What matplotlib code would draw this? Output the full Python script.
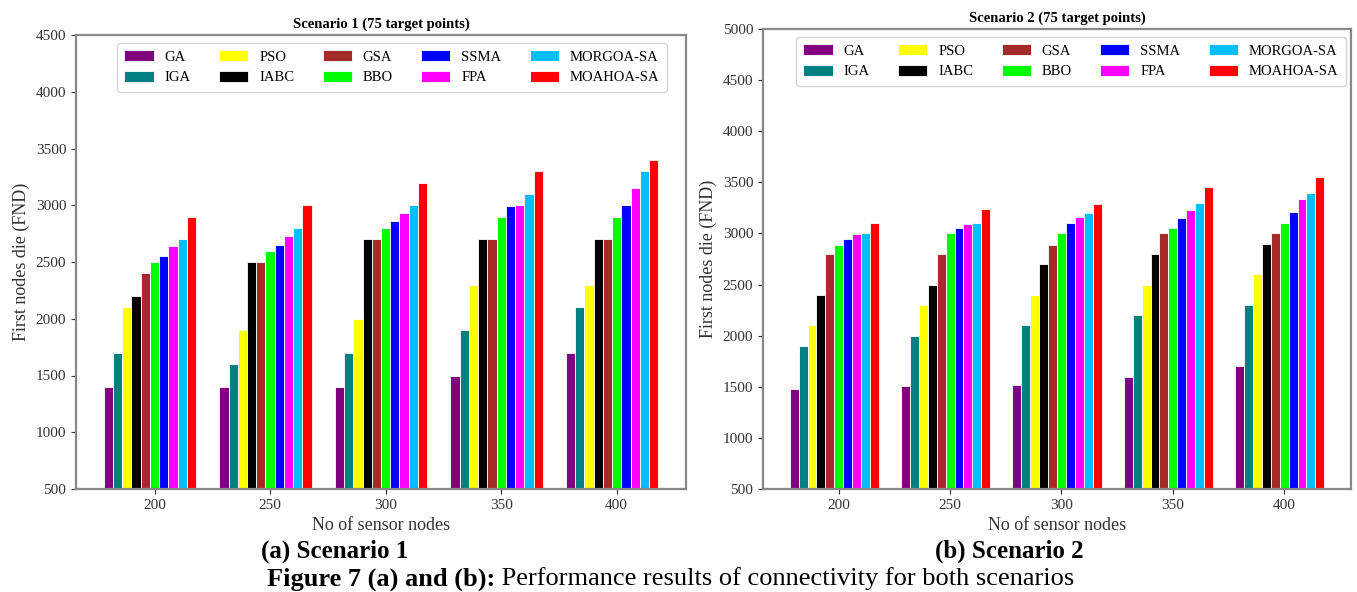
import numpy as np
import matplotlib
matplotlib.use("Agg")
import matplotlib.pyplot as plt

plt.rcParams['font.family'] = ['Liberation Serif', 'DejaVu Serif']

nodes = ["200", "250", "300", "350", "400"]
algorithms = ["GA", "IGA", "PSO", "IABC", "GSA", "BBO", "SSMA", "FPA", "MORGOA-SA", "MOAHOA-SA"]
colors = ["purple", "teal", "yellow", "black", "brown", "lime", "blue", "magenta", "deepskyblue", "red"]

# Scenario 1 values (rows = algorithms, columns = node counts)
s1_GA = [1400, 1400, 1400, 1500, 1700]
s1_IGA = [1700, 1600, 1700, 1900, 2100]
s1_PSO = [2100, 1900, 2000, 2300, 2300]
s1_IABC = [2200, 2500, 2700, 2700, 2700]
s1_GSA = [2400, 2500, 2700, 2700, 2700]
s1_BBO = [2500, 2600, 2800, 2900, 2900]
s1_SSMA = [2550, 2650, 2860, 2990, 3000]
s1_FPA = [2640, 2730, 2930, 3000, 3150]
s1_MORGOA = [2700, 2800, 3000, 3100, 3300]
s1_MOAHOA = [2900, 3000, 3200, 3300, 3400]

# Scenario 2 values
s2_GA = [1480, 1510, 1520, 1600, 1700]
s2_IGA = [1900, 2000, 2100, 2200, 2300]
s2_PSO = [2100, 2300, 2400, 2500, 2600]
s2_IABC = [2400, 2500, 2700, 2800, 2900]
s2_GSA = [2800, 2800, 2890, 3000, 3000]
s2_BBO = [2890, 3000, 3000, 3050, 3100]
s2_SSMA = [2950, 3050, 3100, 3150, 3210]
s2_FPA = [2990, 3090, 3160, 3230, 3340]
s2_MORGOA = [3000, 3100, 3200, 3300, 3400]
s2_MOAHOA = [3100, 3240, 3290, 3450, 3550]

s1 = [s1_GA, s1_IGA, s1_PSO, s1_IABC, s1_GSA, s1_BBO, s1_SSMA, s1_FPA, s1_MORGOA, s1_MOAHOA]
s2 = [s2_GA, s2_IGA, s2_PSO, s2_IABC, s2_GSA, s2_BBO, s2_SSMA, s2_FPA, s2_MORGOA, s2_MOAHOA]

W, H = 1357, 592
fig = plt.figure(figsize=(W / 100, H / 100), dpi=100)

def px_axes(x0, y0, x1, y1):
    return fig.add_axes([x0 / W, 1 - y1 / H, (x1 - x0) / W, (y1 - y0) / H])

ax1 = px_axes(76, 35, 686, 489)
ax2 = px_axes(763, 29, 1351, 489)

def draw(ax, data, title, ymax, legend_anchor_px):
    x = np.arange(len(nodes))
    w = 0.08
    for i, (name, vals, c) in enumerate(zip(algorithms, data, colors)):
        ax.bar(x + (i - 5) * w, np.array(vals) - 500, w, bottom=500, color=c,
               edgecolor='white', linewidth=0.6, label=name)
    ax.set_xticks(x)
    ax.set_xticklabels(nodes, fontsize=11)
    ax.set_ylim(500, ymax)
    ax.set_yticks(np.arange(500, ymax + 1, 500))
    ax.tick_params(axis='y', labelsize=11)
    ax.set_xlabel("No of sensor nodes", fontsize=13, color='#333333')
    ax.set_ylabel("First nodes die (FND)", fontsize=13, color='#333333')
    ax.set_title(title, fontsize=10.5, fontweight='bold', pad=5)
    for s in ax.spines.values():
        s.set_color('#888888')
        s.set_linewidth(1.6)
    ax.tick_params(colors='#333333')
    ax.legend(ncol=5, fontsize=10.5, loc='upper right',
              bbox_to_anchor=(legend_anchor_px[0] / W, 1 - legend_anchor_px[1] / H),
              bbox_transform=fig.transFigure, borderaxespad=0,
              handlelength=2.0, handleheight=0.75, handletextpad=0.75,
              columnspacing=1.95, labelspacing=0.5, borderpad=0.5, framealpha=0.8)

draw(ax1, s1, "Scenario 1 (75 target points)", 4500, (667, 43))
draw(ax2, s2, "Scenario 2 (75 target points)", 5000, (1346, 37))

fig.text(335 / W, 1 - 551 / H, "(a) Scenario 1", fontsize=18, fontweight='bold',
         ha='center', va='center')
fig.text(1009 / W, 1 - 551 / H, "(b) Scenario 2", fontsize=18, fontweight='bold',
         ha='center', va='center')

# Figure caption: bold lead followed by regular text
fig.canvas.draw()
renderer = fig.canvas.get_renderer()
t_bold = fig.text(0, 1 - 579 / H, "Figure 7 (a) and (b):", fontsize=19, fontweight='bold',
                  ha='left', va='center')
t_reg = fig.text(0, 1 - 579 / H, " Performance results of connectivity for both scenarios",
                 fontsize=19, ha='left', va='center')
wb = t_bold.get_window_extent(renderer).width
wr = t_reg.get_window_extent(renderer).width
total = wb + wr
start = (671 - total / 2)
t_bold.set_x(start / W)
t_reg.set_x((start + wb) / W)

fig.savefig("out.png", dpi=100)
